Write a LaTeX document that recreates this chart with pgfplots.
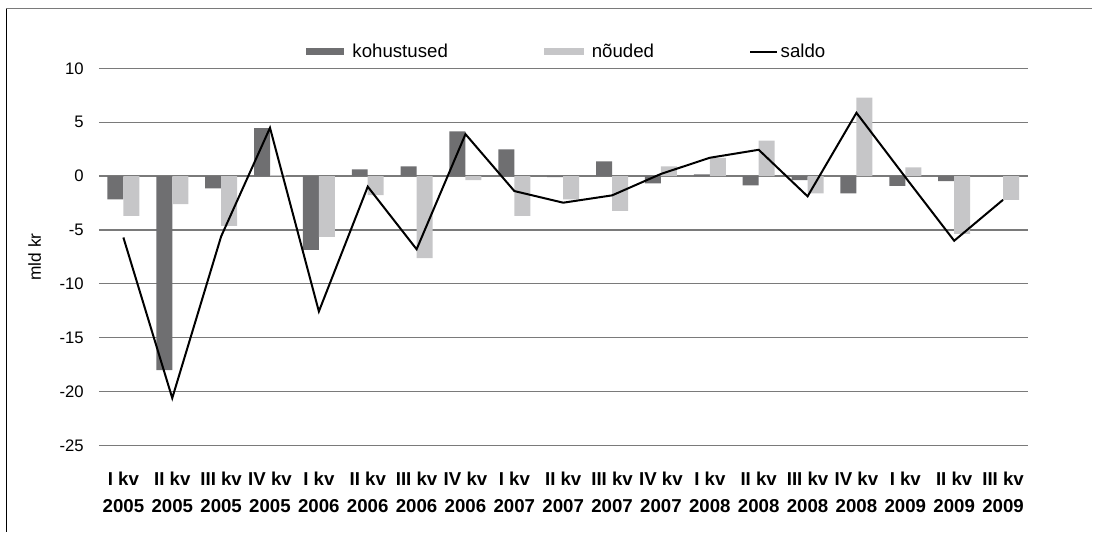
\documentclass[border=0pt]{standalone}
\usepackage{pgfplots}
\pgfplotsset{compat=1.18}
\usepackage{fontspec}
\setmainfont{Liberation Sans}
\definecolor{darkbar}{HTML}{6F6F71}
\definecolor{lightbar}{HTML}{C6C6C8}
\definecolor{gridgray}{HTML}{7A7A7A}

\begin{document}
\begin{tikzpicture}[x=0.75pt,y=0.75pt]
% page size in px (1px = 0.75pt)
\path (0,0) rectangle (1093,532);
\draw[gridgray, line width=0.8pt] (6,523.3) -- (1093,523.3);
\draw[black, line width=0.9pt] (6.5,523.3) -- (6.5,0);
\begin{axis}[
  at={(74.25pt,64.7pt)}, anchor=south west,
  scale only axis,
  width=696.75pt, height=283.05pt,
  xmin=-0.5, xmax=18.5,
  ymin=-25, ymax=10,
  ytick={-25,-20,...,10},
  xtick={0,...,18},
  xticklabels={{I kv\\2005},{II kv\\2005},{III kv\\2005},{IV kv\\2005},
               {I kv\\2006},{II kv\\2006},{III kv\\2006},{IV kv\\2006},
               {I kv\\2007},{II kv\\2007},{III kv\\2007},{IV kv\\2007},
               {I kv\\2008},{II kv\\2008},{III kv\\2008},{IV kv\\2008},
               {I kv\\2009},{II kv\\2009},{III kv\\2009}},
  xticklabel style={align=center, font=\fontsize{14}{20}\selectfont\bfseries, yshift=-16.5pt},
  yticklabel style={font=\fontsize{12.5}{14}\selectfont, xshift=-8pt},
  /pgf/number format/assume math mode=true,
  major tick length=0pt,
  axis line style={draw=none},
  ymajorgrids,
  grid style={gridgray, line width=0.9pt},
  ylabel={mld kr},
  ylabel style={font=\fontsize{13}{15}\selectfont, yshift=7pt},
  legend columns=3,
  legend style={draw=none, fill=none, at={(0.5,1)}, anchor=center,
    yshift=12.5pt, xshift=3pt, font=\fontsize{14}{15}\selectfont,
    /tikz/every odd column/.append style={column sep=4pt},
    /tikz/every even column/.append style={column sep=70pt},
    /tikz/column 4/.append style={column sep=77pt}},
  bar width=12pt,
]
\addplot[ybar, fill=darkbar, draw=none, bar shift=-6pt,
  legend image code/.code={\fill[darkbar] (0pt,-2.5pt) rectangle (28.5pt,2.5pt);}]
  coordinates {(0,-2.15) (1,-18.0) (2,-1.15) (3,4.45) (4,-6.85) (5,0.62) (6,0.9)
  (7,4.15) (8,2.47) (9,-0.1) (10,1.36) (11,-0.68) (12,0.16) (13,-0.86)
  (14,-0.37) (15,-1.6) (16,-0.92) (17,-0.46) (18,0)};
\addlegendentry{kohustused}
\addplot[ybar, fill=lightbar, draw=none, bar shift=6pt,
  legend image code/.code={\fill[lightbar] (0pt,-2.5pt) rectangle (30pt,2.5pt);}]
  coordinates {(0,-3.7) (1,-2.6) (2,-4.63) (3,0.1) (4,-5.65) (5,-1.76) (6,-7.62)
  (7,-0.37) (8,-3.7) (9,-2.16) (10,-3.24) (11,0.9) (12,1.7) (13,3.3)
  (14,-1.6) (15,7.29) (16,0.8) (17,-5.37) (18,-2.2)};
\addlegendentry{nõuded}
\addplot[black, line width=1.5pt, mark=none,
  legend image code/.code={\path[draw=none, fill=none, use as bounding box] (0pt,-2pt) rectangle (17pt,2pt);
    \draw[black, line width=1.5pt] (0pt,0pt) -- (20.5pt,0pt);}]
  coordinates {(0,-5.7) (1,-20.6) (2,-5.6) (3,4.48) (4,-12.56) (5,-0.98) (6,-6.79)
  (7,3.89) (8,-1.39) (9,-2.47) (10,-1.79) (11,0.2) (12,1.7) (13,2.44)
  (14,-1.88) (15,5.87) (16,-0.1) (17,-6.0) (18,-2.2)};
\addlegendentry{saldo}
\end{axis}
\end{tikzpicture}
\end{document}
